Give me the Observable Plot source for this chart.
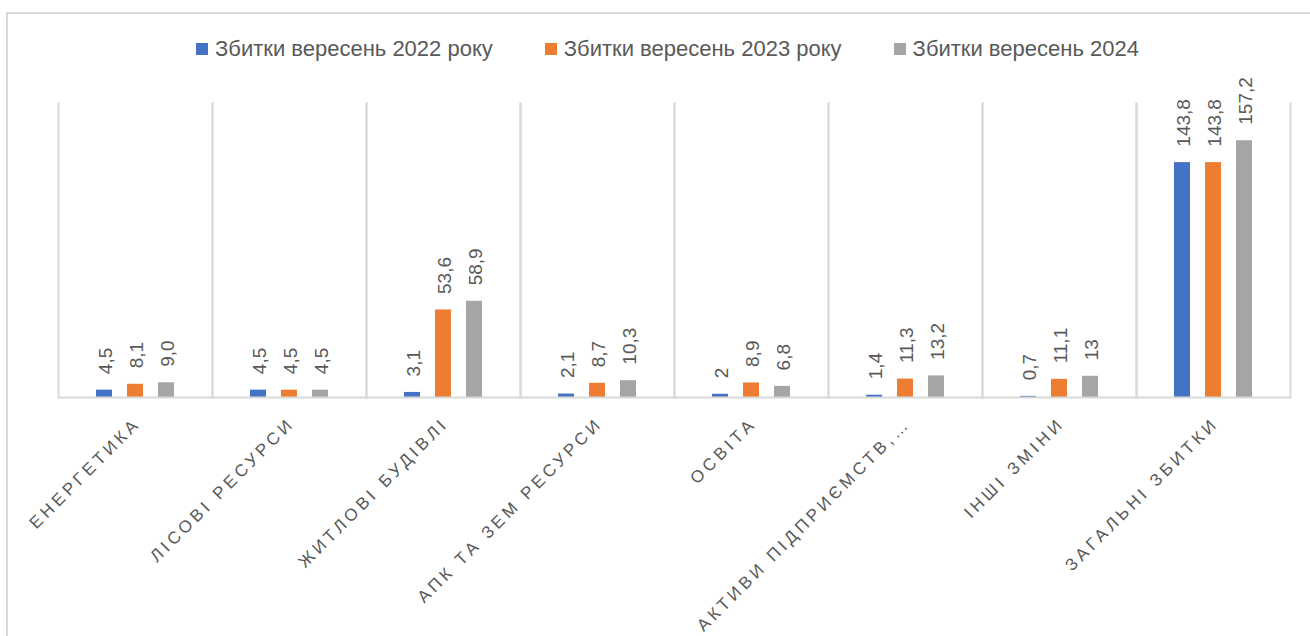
<!DOCTYPE html>
<html>
<head>
<meta charset="utf-8">
<script src="https://cdn.jsdelivr.net/npm/d3@7"></script>
<script src="https://cdn.jsdelivr.net/npm/@observablehq/plot@0.6"></script>
<style>
  html, body { margin: 0; padding: 0; background: #fff; overflow: hidden; width: 1310px; height: 636px; }
  #box { position: absolute; left: 6px; top: 12px; width: 1330px; height: 660px; border: 2px solid #d9d9d9; box-sizing: border-box; }
  #legend { position: absolute; top: 36px; left: 196px; display: flex; font-family: "Liberation Sans", Arial, sans-serif; font-size: 22px; color: #595959; z-index: 2; }
  .item { display: flex; align-items: center; white-space: nowrap; }
  .sw { width: 12px; height: 12px; margin-right: 7px; }
  #chart { position: absolute; left: 0; top: 55px; z-index: 1; }
  .cat text { letter-spacing: 3.8px; }
</style>
</head>
<body>
<div id="box"></div>
<div id="chart"></div>
<div id="legend"></div>
<script>
const categories = ["ЕНЕРГЕТИКА", "ЛІСОВІ РЕСУРСИ", "ЖИТЛОВІ БУДІВЛІ", "АПК ТА ЗЕМ РЕСУРСИ", "ОСВІТА", "АКТИВИ ПІДПРИЄМСТВ,…", "ІНШІ ЗМІНИ", "ЗАГАЛЬНІ ЗБИТКИ"];
const series = ["Збитки вересень 2022 року", "Збитки вересень 2023 року", "Збитки вересень 2024"];
const colors = ["#4472C4", "#ED7D31", "#A5A5A5"];
const values2022 = [4.5, 4.5, 3.1, 2.1, 2, 1.4, 0.7, 143.8];
const values2023 = [8.1, 4.5, 53.6, 8.7, 8.9, 11.3, 11.1, 143.8];
const values2024 = [9.0, 4.5, 58.9, 10.3, 6.8, 13.2, 13, 157.2];
const labels2022 = ["4,5", "4,5", "3,1", "2,1", "2", "1,4", "0,7", "143,8"];
const labels2023 = ["8,1", "4,5", "53,6", "8,7", "8,9", "11,3", "11,1", "143,8"];
const labels2024 = ["9,0", "4,5", "58,9", "10,3", "6,8", "13,2", "13", "157,2"];

const valueSets = [values2022, values2023, values2024];
const labelSets = [labels2022, labels2023, labels2024];
const data = [];
categories.forEach((c, i) => {
  series.forEach((s, j) => {
    data.push({category: c, series: s, value: valueSets[j][i], label: labelSets[j][i]});
  });
});

// legend
const legend = document.getElementById("legend");
series.forEach((s, j) => {
  const it = document.createElement("div");
  it.className = "item";
  if (j > 0) it.style.marginLeft = "52px";
  const sw = document.createElement("div");
  sw.className = "sw";
  sw.style.background = colors[j];
  const t = document.createElement("span");
  t.textContent = s;
  it.appendChild(sw); it.appendChild(t);
  legend.appendChild(it);
});

const chart = Plot.plot({
  width: 1310,
  height: 581,
  marginLeft: 58,
  marginRight: 20,
  marginTop: 48,
  marginBottom: 239,
  style: {fontFamily: "'Liberation Sans', Arial, sans-serif", background: "transparent", overflow: "visible"},
  fx: {domain: categories, padding: 0, axis: null},
  x: {domain: series, paddingInner: 0.47, paddingOuter: 1.18, axis: null},
  y: {domain: [0, 180], axis: null},
  color: {domain: series, range: colors},
  marks: [
    Plot.frame({anchor: "left", stroke: "#d9d9d9", strokeWidth: 2}),
    Plot.frame({anchor: "right", stroke: "#d9d9d9", strokeWidth: 2}),
    Plot.barY(data, {fx: "category", x: "series", y: "value", fill: "series"}),
    Plot.ruleY([0], {stroke: "#d9d9d9", strokeWidth: 2}),
    Plot.text(data, {fx: "category", x: "series", y: "value", text: "label", rotate: -90, textAnchor: "start", dy: -16, dx: 1, fill: "#595959", fontSize: 19}),
    Plot.text(categories, {fx: d => d, text: d => d, frameAnchor: "bottom", rotate: -45, textAnchor: "end", dy: 27, dx: 6, fill: "#595959", fontSize: 17, className: "cat"})
  ]
});
document.getElementById("chart").appendChild(chart);
</script>
</body>
</html>
